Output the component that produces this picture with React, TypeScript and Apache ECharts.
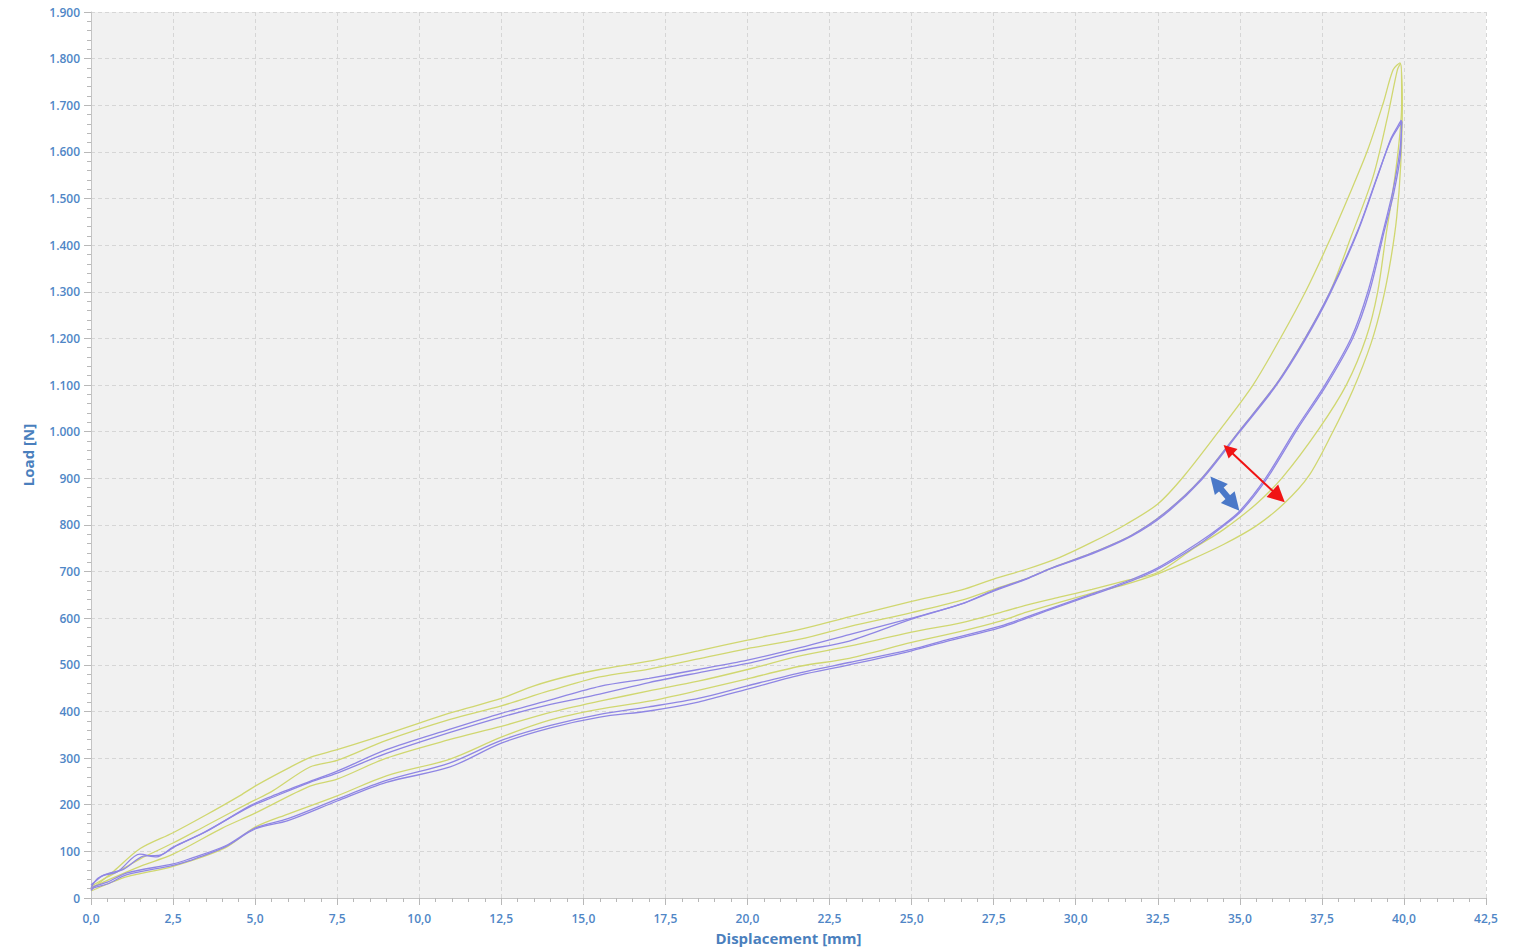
import React, { useEffect, useRef } from "react";
import * as echarts from "echarts";

// ---- Tick labels ----
const xTickLabels = ["0,0","2,5","5,0","7,5","10,0","12,5","15,0","17,5","20,0","22,5","25,0","27,5","30,0","32,5","35,0","37,5","40,0","42,5"];
const yTickLabels = ["0","100","200","300","400","500","600","700","800","900","1.000","1.100","1.200","1.300","1.400","1.500","1.600","1.700","1.800","1.900"];

// ---- Yellow specimen, outer loop ----
const yellowOuterLoad: number[][] = [
  [0,18],[0.3,35],[0.7,58],[1.5,106],[2.5,140],[3.5,178],[4.5,218],[5,240],[6,278],[6.7,302],[7.5,318],[8.5,340],[10,375],[11,398],[12.5,428],[13.5,455],[14.5,475],[15.5,490],[17,508],[18.5,530],[20,553],[21.6,576],[23.1,603],[25,636],[26.5,660],[27.5,684],[28.5,705],[29.5,730],[30.5,763],[31.5,800],[32.5,845],[33.3,905],[34.35,1000],[35.4,1100],[36.25,1202],[37.0,1300],[37.65,1397],[38.36,1512],[38.9,1605],[39.37,1705],[39.67,1776],[39.88,1791]
];
const yellowOuterUnload: number[][] = [
  [39.88,1791],[39.95,1700],[39.9,1570],[39.78,1460],[39.6,1370],[39.35,1280],[39.0,1190],[38.45,1090],[37.8,995],[37.1,905],[36.38,848],[35.5,798],[34.5,758],[33.5,725],[32.5,695],[31.5,672],[30.5,654],[29.5,634],[28.5,613],[27.7,594],[26.5,572],[25,548],[23.1,514],[21.6,497],[20,470],[18.5,445],[17,422],[15.5,405],[14,382],[12.5,345],[10.94,298],[9,262],[7.5,219],[6,180],[5,152],[4.1,108],[2.5,68],[1.1,46],[0.5,30],[0,15]
];

// ---- Yellow specimen, inner loop ----
const yellowInnerLoad: number[][] = [
  [0,25],[0.5,45],[1,64],[1.5,84],[2.5,118],[3.5,155],[4.85,205],[5.5,228],[6.67,281],[7.5,295],[9,338],[10.94,383],[12.5,412],[14,445],[15.5,474],[17,491],[18.5,513],[20,535],[21.6,555],[23.1,582],[25,612],[26.5,638],[27.5,662],[28.5,685],[29.2,706],[30.5,740],[31.7,778],[32.7,825],[33.8,897],[35,1003],[36.1,1101],[37,1202],[37.75,1300],[38.4,1420],[39.06,1547],[39.5,1675],[39.8,1776],[39.9,1790]
];
const yellowInnerUnload: number[][] = [
  [39.9,1790],[39.93,1700],[39.82,1600],[39.63,1500],[39.45,1420],[39.2,1300],[38.85,1202],[38.25,1101],[37.4,1005],[36.3,902],[35.5,845],[34.5,790],[33.6,750],[32.5,698],[31.5,680],[30.5,662],[29.5,645],[28.5,628],[27.7,612],[26.5,590],[25,570],[23.1,540],[21.6,519],[20,490],[18.5,465],[17,444],[15.5,422],[14,398],[12.5,368],[10.94,340],[9,300],[7.5,255],[6.67,240],[5,182],[4,150],[2.5,94],[1.5,68],[0.5,38],[0,22]
];

// ---- Purple specimen, cycle 1 ----
const purpleLoad1: number[][] = [
  [0,28],[0.1,34],[0.36,48],[0.8,56],[1.49,94],[2.0,88],[2.5,109],[3.5,142],[4.85,198],[5.5,218],[6.67,250],[7.5,272],[9,318],[10.94,362],[12.5,396],[14,425],[15.5,454],[17,471],[18.5,490],[20,510],[21.6,537],[23.1,565],[25,600],[26.5,630],[27.5,660],[28.5,685],[29.2,706],[30.5,740],[31.7,778],[32.7,825],[33.8,897],[35,1003],[36.1,1101],[37,1202],[37.75,1300],[38.6,1433],[39.2,1550],[39.6,1625],[39.85,1655],[39.94,1665]
];
const purpleUnload1: number[][] = [
  [39.94,1665],[39.88,1605],[39.67,1519],[39.35,1425],[38.9,1300],[38.4,1202],[37.6,1101],[36.7,1005],[35.8,902],[35,830],[34.4,795],[33.8,765],[32.5,708],[31.7,683],[30.5,652],[29.2,620],[27.7,583],[26.15,555],[25,533],[23.1,505],[21.6,483],[20,455],[18.5,428],[17,410],[15.5,394],[14,370],[12.5,338],[10.94,290],[9,252],[7.5,212],[6,170],[5,150],[4.1,112],[3,84],[2.5,73],[1.1,54],[0.5,34],[0.1,25],[0,18]
];

// ---- Purple specimen, cycle 2 ----
const purpleLoad2: number[][] = [
  [0,22],[0.2,42],[0.5,52],[1,62],[1.6,90],[2.1,92],[2.6,112],[3.5,143],[4.85,196],[5.5,215],[6.67,248],[7.5,268],[9,310],[10.94,355],[12.5,388],[14,415],[15.5,437],[17,462],[18.5,483],[20,503],[21.6,530],[23.1,551],[25,598],[26.5,630],[27.5,658],[28.5,684],[29.2,705],[30.5,738],[31.7,776],[32.7,822],[33.8,894],[35,1000],[36.1,1098],[37,1198],[37.75,1296],[38.6,1430],[39.2,1548],[39.6,1628],[39.85,1660],[39.92,1668]
];
const purpleUnload2: number[][] = [
  [39.92,1668],[39.9,1600],[39.7,1515],[39.4,1430],[38.95,1300],[38.45,1202],[37.65,1101],[36.75,1005],[35.85,902],[35.05,830],[34.45,795],[33.85,763],[32.5,705],[31.7,680],[30.5,650],[29.2,618],[27.7,580],[26.15,552],[25,530],[23.1,500],[21.6,478],[20,448],[18.5,420],[17,401],[15.5,388],[14,365],[12.5,332],[10.94,281],[9,248],[7.5,208],[6,166],[5,148],[4.1,110],[3,80],[2.5,70],[1.1,50],[0.5,30],[0.1,22],[0,16]
];

// ---- Annotation arrows (data coordinates) ----
const redArrow: number[][] = [[34.65, 962],[36.18, 861]];
const blueArrow: number[][] = [[34.27, 890],[34.81, 845]];

const YELLOW = "#d0d770";
const PURPLE = "#8f86e4";
const LABEL_BLUE = "#4f86c6";
const NAME_BLUE = "#4a7fbd";

export default function App() {
  const ref = useRef<HTMLDivElement>(null);
  useEffect(() => {
    if (!ref.current) return;
    const chart = echarts.init(ref.current, undefined, { renderer: "svg" });
    const loopSeries = (name: string, load: number[][], unload: number[][], color: string, z: number) => ({
      name,
      type: "line",
      data: [...load, ...unload.slice(1)],
      showSymbol: false,
      symbol: "none",
      smooth: 0.3,
      lineStyle: { color, width: 1.3 },
      z,
    });
    const option: any = {
      animation: false,
      backgroundColor: "#ffffff",
      grid: {
        left: 91, right: 36, top: 12, bottom: 51,
        show: true, backgroundColor: "#f1f1f1", borderWidth: 0,
      },
      xAxis: {
        type: "value", min: 0, max: 42.5, interval: 2.5,
        name: "Displacement [mm]", nameLocation: "middle", nameGap: 32,
        nameTextStyle: { color: NAME_BLUE, fontSize: 15, fontWeight: "bold", fontFamily: "Open Sans" },
        axisLine: { show: true, lineStyle: { color: "#c4c4c4" } },
        axisTick: { show: true, length: 7, lineStyle: { color: "#b8b8b8" } },
        minorTick: { show: true, splitNumber: 5, length: 4, lineStyle: { color: "#b8b8b8" } },
        axisLabel: {
          color: LABEL_BLUE, fontSize: 12, fontWeight: 600, fontFamily: "Open Sans", margin: 14,
          formatter: (v: number) => xTickLabels[Math.round(v / 2.5)] ?? "",
        },
        splitLine: { show: true, lineStyle: { color: "#d6d6d6", type: [4, 3], width: 1 } },
      },
      yAxis: {
        type: "value", min: 0, max: 1900, interval: 100,
        name: "Load [N]", nameLocation: "middle", nameGap: 56,
        nameTextStyle: { color: NAME_BLUE, fontSize: 15, fontWeight: "bold", fontFamily: "Open Sans" },
        axisLine: { show: true, lineStyle: { color: "#c4c4c4" } },
        axisTick: { show: true, length: 7, lineStyle: { color: "#b8b8b8" } },
        minorTick: { show: true, splitNumber: 5, length: 4, lineStyle: { color: "#b8b8b8" } },
        axisLabel: {
          color: LABEL_BLUE, fontSize: 12, fontWeight: 600, fontFamily: "Open Sans", margin: 11,
          formatter: (v: number) => yTickLabels[Math.round(v / 100)] ?? "",
        },
        splitLine: { show: true, lineStyle: { color: "#d6d6d6", type: [4, 3], width: 1 } },
      },
      series: [
        loopSeries("Yellow outer", yellowOuterLoad, yellowOuterUnload, YELLOW, 2),
        loopSeries("Yellow inner", yellowInnerLoad, yellowInnerUnload, YELLOW, 2),
        loopSeries("Purple 1", purpleLoad1, purpleUnload1, PURPLE, 3),
        loopSeries("Purple 2", purpleLoad2, purpleUnload2, PURPLE, 3),
        {
          type: "lines", coordinateSystem: "cartesian2d", z: 6,
          symbol: ["triangle", "triangle"], symbolSize: [13, 17],
          lineStyle: { color: "#f01414", width: 2, opacity: 1 },
          data: [{ coords: redArrow }],
        },
        {
          type: "lines", coordinateSystem: "cartesian2d", z: 6,
          symbol: ["triangle", "triangle"], symbolSize: [17, 18],
          lineStyle: { color: "#4a78c8", width: 6, opacity: 1 },
          data: [{ coords: blueArrow }],
        },
      ],
    };
    chart.setOption(option);
    return () => chart.dispose();
  }, []);
  return <div ref={ref} style={{ position: "absolute", left: 0, top: 0, width: 1522, height: 950 }} />;
}
